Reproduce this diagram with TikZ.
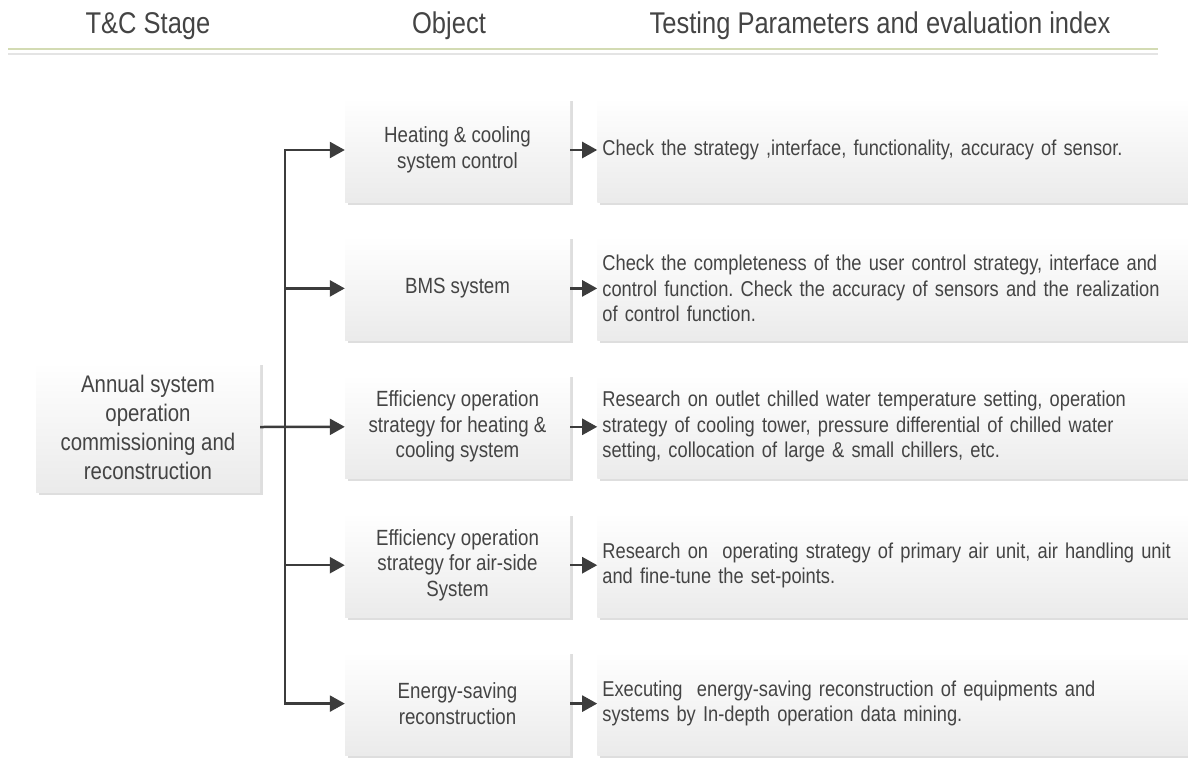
\documentclass[tikz,border=0pt]{standalone}
\usepackage{fontspec}
\setmainfont{Liberation Sans}[FakeStretch=0.85]
\usetikzlibrary{arrows.meta,positioning,shadows}
\definecolor{ink}{HTML}{3C3C3C}
\definecolor{txt}{HTML}{444444}
\definecolor{ruleolive}{HTML}{D3DBB3}
\definecolor{rulegray}{HTML}{E4E4E4}
\frenchspacing

\begin{document}
\begin{tikzpicture}[
  x=1pt, y=-1pt,
  node distance=34pt and 27pt,
  card/.style={align=center, text=txt, top color=white, bottom color=black!8, inner sep=4pt,
    drop shadow={shadow xshift=2.5pt, shadow yshift=-2.5pt, fill=black!13, opacity=1},
    font=\fontsize{22}{25.5}\selectfont},
  obj/.style={card, minimum width=225pt, minimum height=104pt},
  idx/.style={card, align=left, minimum width=600pt, text width=590pt, minimum height=104pt,
    font=\fontsize{21.5}{25.5}\selectfont},
  stage/.style={card, minimum width=224pt, minimum height=130pt, font=\fontsize{24}{29}\selectfont},
  head/.style={text=txt, font=\fontsize{30}{34}\selectfont},
  arr/.style={-{Triangle[length=15pt,width=16pt]}, line width=2.5pt, draw=ink},
  trunk/.style={line width=2.5pt, draw=ink, line cap=rect}
]
  \useasboundingbox (0,0) rectangle (1188,758);

  % header row
  \node[head] (hstage) at (148,26) {T\&C Stage};
  \node[head] (hobj) at (449,26) {Object};
  \node[head] (hidx) at (880,26) {Testing Parameters and evaluation index};
  \draw[ruleolive, line width=2pt] (8,49) -- (1158,49);
  \draw[rulegray, line width=1.5pt] (8,54) -- (1158,54);

  % objects
  \node[obj] (m1) at (457.5,150) {Heating \& cooling\\system control};
  \node[obj, below=of m1] (m2) {BMS system};
  \node[obj, below=of m2] (m3) {Efficiency operation\\strategy for heating \&\\cooling system};
  \node[obj, below=of m3] (m4) {Efficiency operation\\strategy for air-side\\System};
  \node[obj, below=of m4] (m5) {Energy-saving\\reconstruction};

  % stage
  \node[stage] (stage) at (148,427) {Annual system\\operation\\commissioning and\\reconstruction};

  % testing parameters
  \node[idx, right=of m1] (r1) {Check the strategy ,interface, functionality, accuracy of sensor.};
  \node[idx, right=of m2] (r2) {Check the completeness of the user control strategy, interface and\\control function. Check the accuracy of sensors and the realization\\of control function.};
  \node[idx, right=of m3] (r3) {Research on outlet chilled water temperature setting, operation\\strategy of cooling tower, pressure differential of chilled water\\setting, collocation of large \& small chillers, etc.};
  \node[idx, right=of m4] (r4) {Research on \ operating strategy of primary air unit, air handling unit\\and fine-tune the set-points.};
  \node[idx, right=of m5] (r5) {Executing \ energy-saving reconstruction of equipments and\\systems by In-depth operation data mining.};

  \coordinate (fork) at (285,427);
  \draw[trunk] (fork |- m1) -- (fork |- m5);
  \draw[arr] (stage.east) -- (m3.west);
  \foreach \i in {1,2,4,5}
    \draw[arr] (fork |- m\i) -- (m\i.west);
  \foreach \i in {1,...,5}
    \draw[arr] (m\i.east) -- (r\i.west);
\end{tikzpicture}
\end{document}
